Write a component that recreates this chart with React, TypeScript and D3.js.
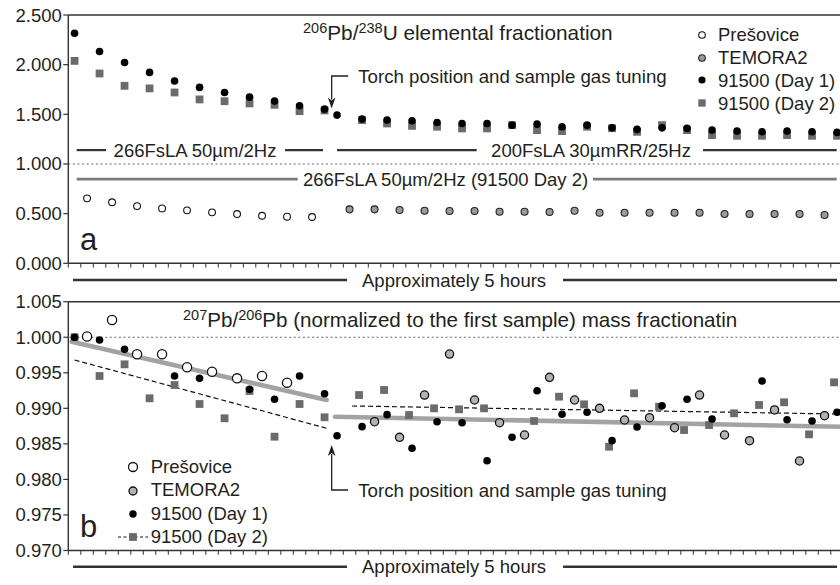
import React, { useEffect } from "react";
import * as d3 from "d3";

// ---------- data (x = sample slot index, y = ratio) ----------
// Panel a: 206Pb/238U elemental fractionation
const presTopSlots = [1, 3, 5, 7, 9, 11, 13, 15, 17, 19];
const presTop = [0.654, 0.614, 0.576, 0.553, 0.533, 0.513, 0.496, 0.479, 0.469, 0.466];

const temTopSlots = [22, 24, 26, 28, 30, 32, 34, 36, 38, 40, 42, 44, 46, 48, 50, 52, 54, 56, 58, 60];
const temTop = [0.543, 0.543, 0.536, 0.529, 0.526, 0.526, 0.519, 0.519, 0.516, 0.529, 0.509, 0.509, 0.509, 0.509, 0.509, 0.496, 0.496, 0.496, 0.496, 0.486];

const day1TopSlots = [0, 2, 4, 6, 8, 10, 12, 14, 16, 18, 20, 21, 23, 25, 27, 29, 31, 33, 35, 37, 39, 41, 43, 45, 47, 49, 51, 53, 55, 57, 59, 61];
const day1Top = [2.317, 2.133, 2.022, 1.922, 1.835, 1.771, 1.72, 1.673, 1.633, 1.586, 1.552, 1.492, 1.452, 1.442, 1.435, 1.418, 1.408, 1.408, 1.391, 1.401, 1.375, 1.391, 1.364, 1.348, 1.364, 1.358, 1.341, 1.331, 1.324, 1.331, 1.324, 1.318];

const day2TopSlots = [0, 2, 4, 6, 8, 10, 12, 14, 16, 18, 20, 23, 25, 27, 29, 31, 33, 35, 37, 39, 41, 43, 45, 47, 49, 51, 53, 55, 57, 59, 61];
const day2Top = [2.038, 1.911, 1.787, 1.761, 1.72, 1.65, 1.632, 1.61, 1.596, 1.532, 1.539, 1.442, 1.408, 1.384, 1.375, 1.358, 1.358, 1.391, 1.341, 1.331, 1.375, 1.36, 1.324, 1.391, 1.341, 1.291, 1.284, 1.284, 1.291, 1.284, 1.284];

// Panel b: 207Pb/206Pb normalized
const presBotSlots = [1, 3, 5, 7, 9, 11, 13, 15, 17];
const presBot = [1.0001, 1.00243, 0.9976, 0.9976, 0.99577, 0.99515, 0.99422, 0.99455, 0.99361];

const temBotSlots = [24, 26, 28, 30, 32, 34, 36, 38, 40, 42, 44, 46, 48, 50, 52, 54, 56, 58, 60];
const temBot = [0.98812, 0.98592, 0.99187, 0.99764, 0.99117, 0.98798, 0.98625, 0.99436, 0.99117, 0.99, 0.98836, 0.98868, 0.98727, 0.99187, 0.98625, 0.98545, 0.98977, 0.98259, 0.98896];

const day1BotSlots = [0, 2, 4, 8, 10, 14, 16, 18, 20, 21, 23, 25, 27, 29, 31, 33, 35, 37, 39, 41, 43, 45, 47, 49, 51, 55, 57, 59, 61];
const day1Bot = [1.0, 0.99961, 0.9983, 0.99455, 0.99422, 0.99268, 0.99127, 0.99455, 0.99205, 0.98615, 0.98742, 0.98911, 0.98438, 0.98812, 0.98798, 0.98263, 0.98593, 0.99248, 0.98916, 0.98944, 0.98545, 0.98737, 0.99037, 0.99127, 0.9885, 0.99384, 0.9884, 0.98822, 0.98944];

const day2BotSlots = [0, 2, 4, 6, 8, 10, 12, 14, 16, 18, 20, 23, 25, 27, 29, 31, 33, 37, 39, 41, 43, 45, 47, 49, 51, 53, 55, 57, 59, 61];
const day2Bot = [1.0, 0.99455, 0.99619, 0.99141, 0.99328, 0.99061, 0.9886, 0.99244, 0.98601, 0.99061, 0.98874, 0.99187, 0.99258, 0.98906, 0.99, 0.98986, 0.99, 0.98822, 0.99164, 0.99056, 0.9846, 0.99211, 0.99023, 0.98695, 0.98765, 0.9893, 0.99047, 0.99085, 0.98634, 0.99366];

// trend lines (slot, value)
const presDay1Trend: [number, number][] = [[-0.23, 0.99937], [20.17, 0.99117]];
const day2TrendA: [number, number][] = [[0, 0.9968], [20.17, 0.98719]];
const temDay1Trend: [number, number][] = [[20.83, 0.98882], [61.3, 0.98741]];
const day2TrendB: [number, number][] = [[22.2, 0.99033], [61, 0.9892]];

const yTicksTop = [0, 0.5, 1, 1.5, 2, 2.5];
const yTicksBot = [0.97, 0.975, 0.98, 0.985, 0.99, 0.995, 1.0, 1.005];

const legendLabels = ["Prešovice", "TEMORA2", "91500 (Day 1)", "91500 (Day 2)"];

// ---------- layout ----------
const W = 840;
const H = 585;
const FONT = "'Liberation Sans', Arial, Helvetica, sans-serif";
const TXT = "#231f20";
const AX = "#333";
const SQ = "#6b6b6b";

const x = d3.scaleLinear().domain([-0.5, 61.5]).range([68.3, 843.3]);
const yA = d3.scaleLinear().domain([0, 2.5]).range([263.3, 15]);
const yB = d3.scaleLinear().domain([0.97, 1.005]).range([550.5, 301.7]);
const xTicks = d3.range(-0.5, 62, 1);

function zip(s: number[], v: number[]) {
  return s.map((d, i) => ({ s: d, v: v[i] }));
}

function Axes({ y, ticks, fmt }: { y: d3.ScaleLinear<number, number>; ticks: number[]; fmt: (n: number) => string }) {
  const [y0, y1] = y.range();
  const x0 = x.range()[0];
  return (
    <g>
      <line x1={x0} x2={W + 5} y1={y1} y2={y1} stroke={AX} strokeWidth={1.5} />
      <line x1={x0} x2={x0} y1={y1} y2={y0} stroke={AX} strokeWidth={1.4} />
      <line x1={x0} x2={W + 5} y1={y0} y2={y0} stroke={AX} strokeWidth={1.4} />
      {ticks.map((t) => (
        <g key={t}>
          <line x1={x0 - 5} x2={x0} y1={y(t)} y2={y(t)} stroke={AX} strokeWidth={1.2} />
          <text x={x0 - 6.5} y={y(t)} textAnchor="end" dominantBaseline="central" fontSize={18.5} fill={TXT}>
            {fmt(t)}
          </text>
        </g>
      ))}
      {xTicks.map((t) => (
        <line key={t} x1={x(t)} x2={x(t)} y1={y0} y2={y0 + 4.3} stroke={AX} strokeWidth={1} />
      ))}
      <line x1={x0} x2={W + 5} y1={y(1)} y2={y(1)} stroke="#666" strokeWidth={1} strokeDasharray="2,2.6" />
    </g>
  );
}

function LabeledLine({
  yPos, segs, label, center, color, width,
}: { yPos: number; segs: [number, number][]; label: string; center: number; color: string; width: number }) {
  return (
    <g>
      {segs.map((s, i) => (
        <line key={i} x1={x(s[0])} x2={x(s[1])} y1={yPos} y2={yPos} stroke={color} strokeWidth={width} />
      ))}
      <text x={x(center)} y={yPos} textAnchor="middle" dominantBaseline="central" fontSize={18.5} fill={TXT}>
        {label}
      </text>
    </g>
  );
}

function Torch({ xs, yText, yTip, up }: { xs: number; yText: number; yTip: number; up: boolean }) {
  const ax = x(xs);
  const dir = up ? -1 : 1;
  return (
    <g>
      <path d={`M${ax + 16.5},${yText} H${ax} V${yTip - dir * 9}`} fill="none" stroke={TXT} strokeWidth={1.3} />
      <path d={`M${ax - 3.8},${yTip - dir * 11} L${ax},${yTip} L${ax + 3.8},${yTip - dir * 11} L${ax},${yTip - dir * 8} Z`} fill={TXT} />
      <text x={ax + 26.5} y={yText} dominantBaseline="central" fontSize={18.7} fill={TXT}>
        Torch position and sample gas tuning
      </text>
    </g>
  );
}

function Hours({ yPos }: { yPos: number }) {
  return (
    <LabeledLine yPos={yPos} segs={[[-0.12, 21.8], [39.08, 61.0]]} label="Approximately 5 hours" center={30.36} color={AX} width={2.4} />
  );
}

function Square({ cx, cy, s, fill }: { cx: number; cy: number; s: number; fill: string }) {
  return <rect x={cx - s / 2} y={cy - s / 2} width={s} height={s} fill={fill} />;
}

export default function App() {
  useEffect(() => {
    document.body.style.margin = "0";
  }, []);

  const line = (y: d3.ScaleLinear<number, number>) =>
    d3.line<[number, number]>().x((d) => x(d[0])).y((d) => y(d[1]));

  const lineB = line(yB);

  return (
    <svg width={W} height={H} style={{ position: "absolute", left: 0, top: 0, background: "#fff" }} fontFamily={FONT}>
      <rect width={W} height={H} fill="#fff" />

      {/* ===== Panel a ===== */}
      <Axes y={yA} ticks={yTicksTop} fmt={d3.format(".3f")} />
      <text x={303} y={39.5} fontSize={20.8} fill={TXT}>
        <tspan fontSize={14.5} dy={-7}>206</tspan>
        <tspan dy={7}>Pb/</tspan>
        <tspan fontSize={14.5} dy={-7}>238</tspan>
        <tspan dy={7}>U elemental fractionation</tspan>
      </text>
      <LabeledLine yPos={yA(1.14)} segs={[[0.17, 2.52], [16.84, 19.88]]} label="266FsLA 50µm/2Hz" center={9.64} color={AX} width={2.2} />
      <LabeledLine yPos={yA(1.14)} segs={[[21.0, 32.17], [50.28, 60.97]]} label="200FsLA 30µmRR/25Hz" center={41.32} color={AX} width={2.2} />
      <LabeledLine yPos={yA(0.848)} segs={[[0.17, 17.85], [41.48, 60.97]]} label="266FsLA 50µm/2Hz (91500 Day 2)" center={29.68} color="#7a7a7a" width={2.6} />

      {zip(day2TopSlots, day2Top).map((d, i) => (
        <Square key={"d2a" + i} cx={x(d.s)} cy={yA(d.v)} s={7.8} fill={SQ} />
      ))}
      {zip(presTopSlots, presTop).map((d, i) => (
        <circle key={"pa" + i} cx={x(d.s)} cy={yA(d.v)} r={3.4} fill="#fff" stroke="#111" strokeWidth={1.1} />
      ))}
      {zip(temTopSlots, temTop).map((d, i) => (
        <circle key={"ta" + i} cx={x(d.s)} cy={yA(d.v)} r={3.5} fill="#9a9a9a" stroke="#222" strokeWidth={1.1} />
      ))}
      {zip(day1TopSlots, day1Top).map((d, i) => (
        <circle key={"d1a" + i} cx={x(d.s)} cy={yA(d.v)} r={3.8} fill="#000" />
      ))}

      <Torch xs={20.57} yText={76} yTip={108.5} up={false} />
      <text x={80} y={250} fontSize={31} fill={TXT}>a</text>
      <Hours yPos={280} />

      {/* legend a */}
      <g fontSize={18.5} fill={TXT}>
        <circle cx={702} cy={35} r={3.3} fill="#fff" stroke="#111" strokeWidth={1.1} />
        <circle cx={702} cy={58} r={3.3} fill="#9a9a9a" stroke="#222" strokeWidth={1.1} />
        <circle cx={702} cy={80} r={3.6} fill="#000" />
        <Square cx={702} cy={103} s={7.3} fill={SQ} />
        {legendLabels.map((l, i) => (
          <text key={l} x={718} y={34 + i * 23} dominantBaseline="central">{l}</text>
        ))}
      </g>

      {/* ===== Panel b ===== */}
      <Axes y={yB} ticks={yTicksBot} fmt={d3.format(".3f")} />
      <text x={183} y={327} fontSize={20.6} fill={TXT}>
        <tspan fontSize={14.5} dy={-7}>207</tspan>
        <tspan dy={7}>Pb/</tspan>
        <tspan fontSize={14.5} dy={-7}>206</tspan>
        <tspan dy={7}>Pb (normalized to the first sample) mass fractionatin</tspan>
      </text>

      <path d={lineB(presDay1Trend) || ""} stroke="#a3a3a3" strokeWidth={4.6} fill="none" strokeLinecap="round" />
      <path d={lineB(temDay1Trend) || ""} stroke="#a3a3a3" strokeWidth={4.6} fill="none" strokeLinecap="round" />
      <path d={lineB(day2TrendA) || ""} stroke="#111" strokeWidth={1.2} fill="none" strokeDasharray="5,3" />
      <path d={lineB(day2TrendB) || ""} stroke="#111" strokeWidth={1.2} fill="none" strokeDasharray="5,3" />

      {zip(day2BotSlots, day2Bot).map((d, i) => (
        <Square key={"d2b" + i} cx={x(d.s) - (d.s > 20 ? 3 : 0)} cy={yB(d.v)} s={7.8} fill={SQ} />
      ))}
      {zip(presBotSlots, presBot).map((d, i) => (
        <circle key={"pb" + i} cx={x(d.s)} cy={yB(d.v)} r={4.6} fill="#fff" stroke="#111" strokeWidth={1.3} />
      ))}
      {zip(temBotSlots, temBot).map((d, i) => (
        <circle key={"tb" + i} cx={x(d.s)} cy={yB(d.v)} r={4.1} fill="#b3b3b3" stroke="#111" strokeWidth={1.3} />
      ))}
      {zip(day1BotSlots, day1Bot).map((d, i) => (
        <circle key={"d1b" + i} cx={x(d.s)} cy={yB(d.v)} r={3.8} fill="#000" />
      ))}

      <Torch xs={20.57} yText={490} yTip={445} up={true} />
      <text x={80} y={537} fontSize={31} fill={TXT}>b</text>
      <Hours yPos={566.7} />

      {/* legend b */}
      <g fontSize={18.5} fill={TXT}>
        <circle cx={133} cy={467} r={4.5} fill="#fff" stroke="#111" strokeWidth={1.3} />
        <circle cx={133} cy={491} r={4} fill="#b3b3b3" stroke="#111" strokeWidth={1.3} />
        <circle cx={133} cy={514} r={3.7} fill="#000" />
        <line x1={118} x2={148} y1={537} y2={537} stroke="#111" strokeWidth={1.2} strokeDasharray="3,2.5" />
        <Square cx={133} cy={537} s={7.8} fill={SQ} />
        {legendLabels.map((l, i) => (
          <text key={l} x={150.7} y={466 + i * 23.5} dominantBaseline="central">{l}</text>
        ))}
      </g>
    </svg>
  );
}
